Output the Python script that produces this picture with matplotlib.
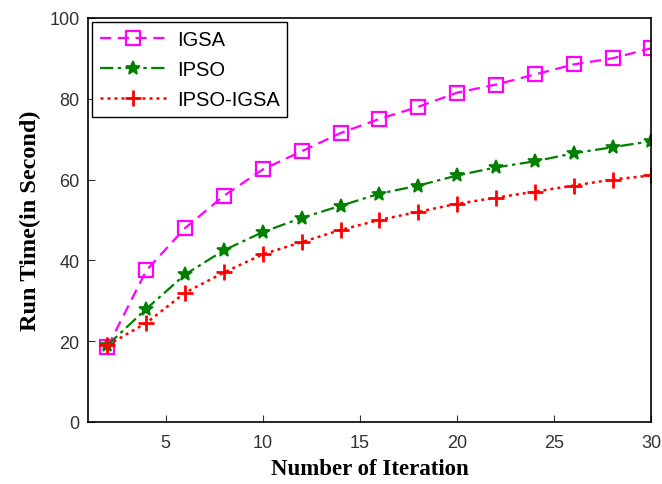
import matplotlib.pyplot as plt

iterations = [2, 4, 6, 8, 10, 12, 14, 16, 18, 20, 22, 24, 26, 28, 30]
igsa = [18.5, 37.5, 48, 56, 62.5, 67, 71.5, 75, 78, 81.5, 83.5, 86, 88.5, 90, 92.5]
ipso = [19, 28, 36.5, 42.5, 47, 50.5, 53.5, 56.5, 58.5, 61, 63, 64.5, 66.5, 68, 69.5]
ipso_igsa = [19, 24.5, 32, 37, 41.5, 44.5, 47.5, 50, 52, 54, 55.5, 57, 58.5, 60, 61]

plt.rcParams["font.family"] = "Liberation Sans"

fig = plt.figure(figsize=(6.62, 4.85), dpi=100)
ax = fig.add_axes([0.133, 0.128, 0.851, 0.833])

ax.plot(iterations, igsa, color="magenta", ls=(0, (5, 3)), lw=1.6,
        marker="s", ms=10, mfc="none", mew=1.6, label="IGSA")
ax.plot(iterations, ipso, color="green", ls=(0, (6, 2, 1.5, 2)), lw=1.6,
        marker="*", ms=10.5, mew=1.2, label="IPSO")
ax.plot(iterations, ipso_igsa, color="red", ls=(0, (1.2, 1.6)), lw=1.8,
        marker="+", ms=12, mew=2, label="IPSO-IGSA")

ax.set_xlim(1, 30)
ax.set_ylim(0, 100)
ax.set_xticks([5, 10, 15, 20, 25, 30])
ax.set_yticks([0, 20, 40, 60, 80, 100])
ax.tick_params(direction="in", length=5, labelsize=13, colors="#333333")
ax.tick_params(axis="x", pad=9)
ax.tick_params(axis="y", pad=6)
for s in ax.spines.values():
    s.set_linewidth(1.2)

ax.set_xlabel("Number of Iteration", fontfamily="Liberation Serif",
              fontweight="bold", fontsize=16.5, labelpad=5)
ax.set_ylabel("Run Time(in Second)", fontfamily="Liberation Serif",
              fontweight="bold", fontsize=17.5, labelpad=6)

leg = ax.legend(loc="upper left", fontsize=14.5, fancybox=False,
                edgecolor="black", framealpha=1, borderaxespad=0.2,
                handlelength=3.3, handletextpad=0.5, labelspacing=0.55)
leg.get_frame().set_linewidth(1.0)

fig.savefig("out.png", dpi=100)
